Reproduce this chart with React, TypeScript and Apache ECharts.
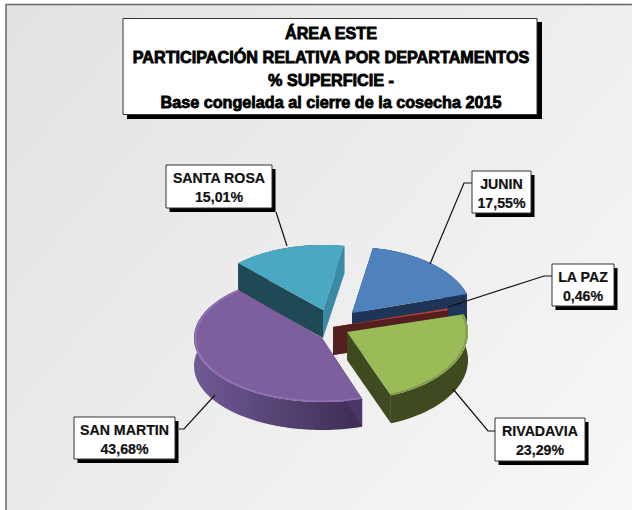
import React, { useEffect, useRef } from "react";
import * as echarts from "echarts";

const departments = ["SANTA ROSA", "JUNIN", "LA PAZ", "RIVADAVIA", "SAN MARTIN"];
const shares = [15.01, 17.55, 0.46, 23.29, 43.68];
const titleLines = [
  "ÁREA ESTE",
  "PARTICIPACIÓN RELATIVA POR DEPARTAMENTOS",
  "% SUPERFICIE -",
  "Base congelada al cierre de la cosecha 2015",
];

// Appearance only: slices are derived from `shares`.
const START_ANGLE = -44;
const DEPTH = 28;
const CX = 344;
const CY = 331;
const explode = [[-21, -21], [8, -18], [-11, -4], [3, 1], [-22, 7]];
const radii = [[122, 65], [120, 66], [119, 64], [121, 68], [128, 64]];
const perspectiveTurn = [0, 0, 0, 0, 3];
const topColors = ["#4aa8c2", "#4f81bd", "#b8403c", "#9bbb59", "#7d5f9e"];
const rimColors = ["#4aa8c2", "#4f81bd", "#c0504d", "#7a9444", "#9476b8"];
const cutColors = [
  ["#1f4a55", "#3b8aa5"],
  ["#1f3557", "#1f3557"],
  ["#551f1f", "#551f1f"],
  ["#3f4a20", "#3f4a20"],
  ["#4a3766", "#4a3766"],
];
const wallStops = [
  ["#1f4a55", "#1f4a55"],
  ["#1f3557", "#1f3557"],
  ["#551f1f", "#551f1f"],
  ["#3f4a20", "#3f4a20"],
  ["#3d2d55", "#6f5a94"],
];
const boxes = [
  { x: 166, y: 165, w: 106, h: 43, line: [[276, 212], [287, 246]] },
  { x: 472, y: 171, w: 59, h: 42, line: [[472, 183], [464, 183], [430, 264]] },
  { x: 552, y: 264, w: 62, h: 42, line: [[552, 276], [544, 276], [448, 307]] },
  { x: 495, y: 418, w: 90, h: 43, line: [[495, 431], [488, 431], [453, 389]] },
  { x: 74, y: 417, w: 101, h: 42, line: [[179, 429], [184, 429], [215, 395]] },
];

const total = shares.reduce((a, b) => a + b, 0);
const fmt = (v: number) => v.toFixed(2).replace(".", ",") + "%";

function renderSlice(params: any) {
  const i = params.dataIndex;
  const before = shares.slice(0, i).reduce((a, b) => a + b, 0);
  const a0 = START_ANGLE + perspectiveTurn[i] + (before / total) * 360;
  const a1 = a0 + (shares[i] / total) * 360;
  const ax = CX + explode[i][0];
  const ay = CY + explode[i][1];
  const [rx, ry] = radii[i];
  const at = (deg: number, shrink = 0) => {
    const t = (deg * Math.PI) / 180;
    return [ax + (rx - shrink) * Math.sin(t), ay - (ry - shrink / 2) * Math.cos(t)];
  };
  const arc: number[][] = [];
  const rim: number[][] = [];
  const steps = Math.max(4, Math.ceil(a1 - a0));
  for (let s = 0; s <= steps; s++) {
    const d = a0 + ((a1 - a0) * s) / steps;
    arc.push(at(d));
    rim.push(at(d, 1.5));
  }
  const down = (p: number[]) => [p[0], p[1] + DEPTH];
  const apex = [ax, ay];
  const first = arc[0];
  const last = arc[arc.length - 1];
  const wallPts = [...arc, ...arc.slice().reverse().map(down)];
  const wallFill = new echarts.graphic.LinearGradient(0, 0, 1, 0, [
    { offset: 0, color: wallStops[i][1] },
    { offset: 1, color: wallStops[i][0] },
  ]);
  const children: any[] = [
    { type: "polygon", shape: { points: wallPts }, style: { fill: wallFill } },
    { type: "polygon", shape: { points: [apex, first, down(first), down(apex)] }, style: { fill: cutColors[i][0] } },
    { type: "polygon", shape: { points: [apex, last, down(last), down(apex)] }, style: { fill: cutColors[i][1] } },
    { type: "polygon", shape: { points: [apex, ...arc] }, style: { fill: topColors[i] } },
    { type: "polyline", shape: { points: rim }, style: { stroke: rimColors[i], fill: null, lineWidth: 1.6, opacity: 0.85 } },
  ];
  return { type: "group", children };
}

export default function App() {
  const ref = useRef<HTMLDivElement>(null);
  useEffect(() => {
    const chart = echarts.init(ref.current!, null, { renderer: "svg" });
    const font = "Liberation Sans, Arial, sans-serif";
    const graphic: any[] = [
      {
        type: "rect", z: -1, silent: true,
        shape: { x: 6, y: 4.5, width: 800, height: 700 },
        style: {
          fill: new echarts.graphic.LinearGradient(0, 0, 0.8, 0.6, [
            { offset: 0, color: "#e2e2e2" },
            { offset: 1, color: "#f6f6f6" },
          ]),
          stroke: "#666666", lineWidth: 1.5,
        },
      },
      { type: "rect", z: 10, shape: { x: 127, y: 22, width: 415, height: 97 }, style: { fill: "#000" } },
      { type: "rect", z: 10, shape: { x: 123, y: 18.5, width: 414, height: 96 }, style: { fill: "#fff", stroke: "#333", lineWidth: 1 } },
    ];
    const titleY = [33, 57, 80, 102];
    titleLines.forEach((t, k) => {
      graphic.push({
        type: "text", z: 11, x: 331, y: titleY[k],
        style: {
          text: t, font: `bold 16.2px ${font}`, fill: "#000", align: "center", verticalAlign: "middle",
          stroke: "#000", lineWidth: 0.8,
        },
      });
    });
    boxes.forEach((b, k) => {
      graphic.push({ type: "polyline", z: 9, shape: { points: b.line }, style: { stroke: "#111", fill: null, lineWidth: 1.2 } });
      graphic.push({ type: "rect", z: 10, shape: { x: b.x + 3.5, y: b.y + 4, width: b.w, height: b.h }, style: { fill: "#000" } });
      graphic.push({ type: "rect", z: 10, shape: { x: b.x, y: b.y, width: b.w, height: b.h }, style: { fill: "#fff", stroke: "#333", lineWidth: 1 } });
      graphic.push({
        type: "text", z: 11, x: b.x + b.w / 2, y: b.y + 13,
        style: { text: departments[k], font: `bold 14.2px ${font}`, fill: "#111", align: "center", verticalAlign: "middle", stroke: "#111", lineWidth: 0.2 },
      });
      graphic.push({
        type: "text", z: 11, x: b.x + b.w / 2, y: b.y + 32,
        style: { text: fmt(shares[k]), font: `bold 14.2px ${font}`, fill: "#111", align: "center", verticalAlign: "middle", stroke: "#111", lineWidth: 0.2 },
      });
    });
    chart.setOption({
      animation: false,
      graphic,
      series: [
        {
          type: "custom",
          coordinateSystem: "none",
          silent: true,
          data: departments.map((name, i) => ({ name, value: shares[i] })),
          renderItem: renderSlice,
        },
      ],
    });
    return () => chart.dispose();
  }, []);
  return <div ref={ref} style={{ position: "absolute", left: 0, top: 0, width: 632, height: 510, background: "#fff" }} />;
}
